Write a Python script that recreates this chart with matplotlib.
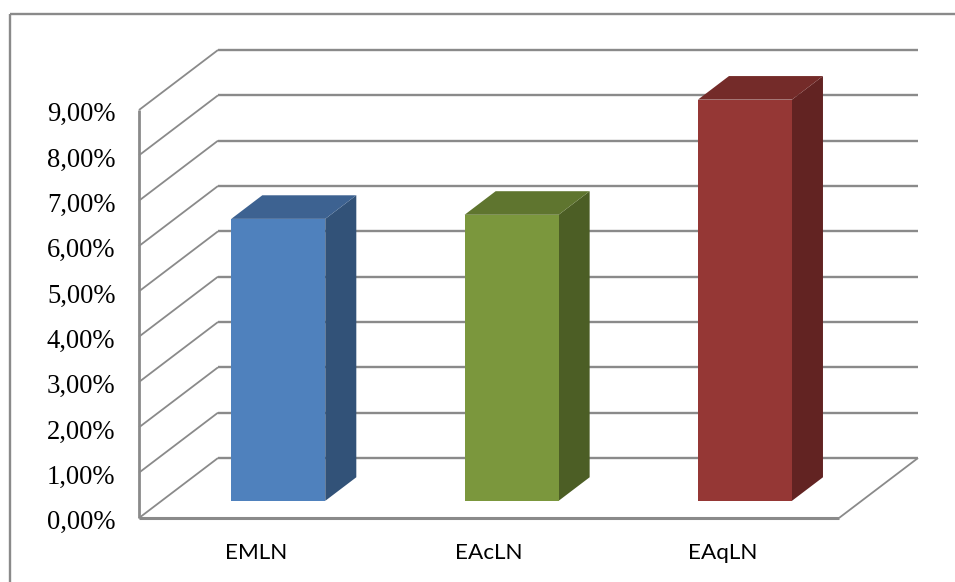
#!/usr/bin/env python3
"""Oblique 3D-style column chart of percentages for three groups."""

import matplotlib
matplotlib.use("Agg")
import matplotlib.pyplot as plt
from matplotlib.lines import Line2D
from matplotlib.patches import Polygon
from matplotlib.transforms import ScaledTranslation

CATEGORIES = ["EMLN", "EAcLN", "EAqLN"]
VALUES = [6.22, 6.31, 8.85]
Y_TICKS = [0, 1, 2, 3, 4, 5, 6, 7, 8, 9]
Y_LABELS = ["0,00%", "1,00%", "2,00%", "3,00%", "4,00%",
            "5,00%", "6,00%", "7,00%", "8,00%", "9,00%"]

FRONT_COLORS = ["#4f81bd", "#7b973d", "#953735"]
TOP_COLORS = ["#3d6291", "#5f752f", "#742b29"]
SIDE_COLORS = ["#325278", "#4c5e25", "#622322"]
GRID_COLOR = "#8a8a8a"

W, H = 955, 582
# depth of the floor, in data units
DEPTH_X = 79 / (700 / 3)
DEPTH_Y = 60 / (408 / 9)
BAR_WIDTH = 94 / (700 / 3)
BAR_NEAR = 0.286
BAR_FAR = 0.679


def project(x, y, d):
    """Shift a data point back along the oblique depth axis (d in 0..1)."""
    return x + d * DEPTH_X, y + d * DEPTH_Y


def draw_walls(ax):
    n = len(CATEGORIES)
    line = dict(color=GRID_COLOR, clip_on=False, zorder=1, solid_capstyle="butt")
    for t in Y_TICKS:
        bx, by = project(0, t, 1)
        ex, ey = project(n, t, 1)
        ax.plot([bx, ex], [by, ey], lw=1.7, **line)
        ax.plot([0, bx], [t, by], lw=1.3, **line)
    # front edges of wall and floor, right edge of floor
    ax.plot([0, 0], [0, Y_TICKS[-1]], lw=2.0, **line)
    ax.plot([0, n], [0, 0], lw=2.2, **line)
    ex, ey = project(n, 0, 1)
    ax.plot([n, ex], [0, ey], lw=1.3, **line)


def draw_bar(ax, i, value):
    cx = i + 0.5
    x0, x1 = cx - BAR_WIDTH / 2, cx + BAR_WIDTH / 2
    front = [project(x0, 0, BAR_NEAR), project(x1, 0, BAR_NEAR),
             project(x1, value, BAR_NEAR), project(x0, value, BAR_NEAR)]
    side = [project(x1, 0, BAR_NEAR), project(x1, 0, BAR_FAR),
            project(x1, value, BAR_FAR), project(x1, value, BAR_NEAR)]
    top = [project(x0, value, BAR_NEAR), project(x1, value, BAR_NEAR),
           project(x1, value, BAR_FAR), project(x0, value, BAR_FAR)]
    for pts, color in ((side, SIDE_COLORS[i]), (top, TOP_COLORS[i]), (front, FRONT_COLORS[i])):
        ax.add_patch(Polygon(pts, closed=True, facecolor=color, edgecolor="none",
                             clip_on=False, zorder=3))


def main():
    fig = plt.figure(figsize=(W / 100, H / 100), dpi=100)
    ax = fig.add_axes([139 / W, 1 - 518 / H, 700 / W, 408 / H])
    ax.set_xlim(0, len(CATEGORIES))
    ax.set_ylim(0, Y_TICKS[-1])
    ax.patch.set_visible(False)
    for spine in ax.spines.values():
        spine.set_visible(False)

    draw_walls(ax)
    for i, value in enumerate(VALUES):
        draw_bar(ax, i, value)

    ax.set_yticks(Y_TICKS)
    ax.set_yticklabels(Y_LABELS, family="Liberation Serif", fontsize=19.2, color="black")
    ax.tick_params(axis="y", length=0, pad=17)
    # nudge the percent labels down a little
    nudge = ScaledTranslation(0, -1.2 / 72, fig.dpi_scale_trans)
    for label in ax.get_yticklabels():
        label.set_transform(label.get_transform() + nudge)

    ax.set_xticks([i + 0.5 for i in range(len(CATEGORIES))])
    ax.set_xticklabels(CATEGORIES, family="Lato", fontsize=16.2, color="black")
    ax.tick_params(axis="x", length=0, pad=18)

    # chart frame: only the top and left edges are in view
    fx, fy = 9.5 / W, 1 - 14 / H
    frame = dict(color="#8a8a8a", lw=1.7, transform=fig.transFigure, solid_capstyle="butt")
    fig.add_artist(Line2D([fx, fx], [0, fy], **frame))
    fig.add_artist(Line2D([fx, 1], [fy, fy], **frame))

    fig.savefig("out.png", dpi=100, facecolor="white")


if __name__ == "__main__":
    main()
